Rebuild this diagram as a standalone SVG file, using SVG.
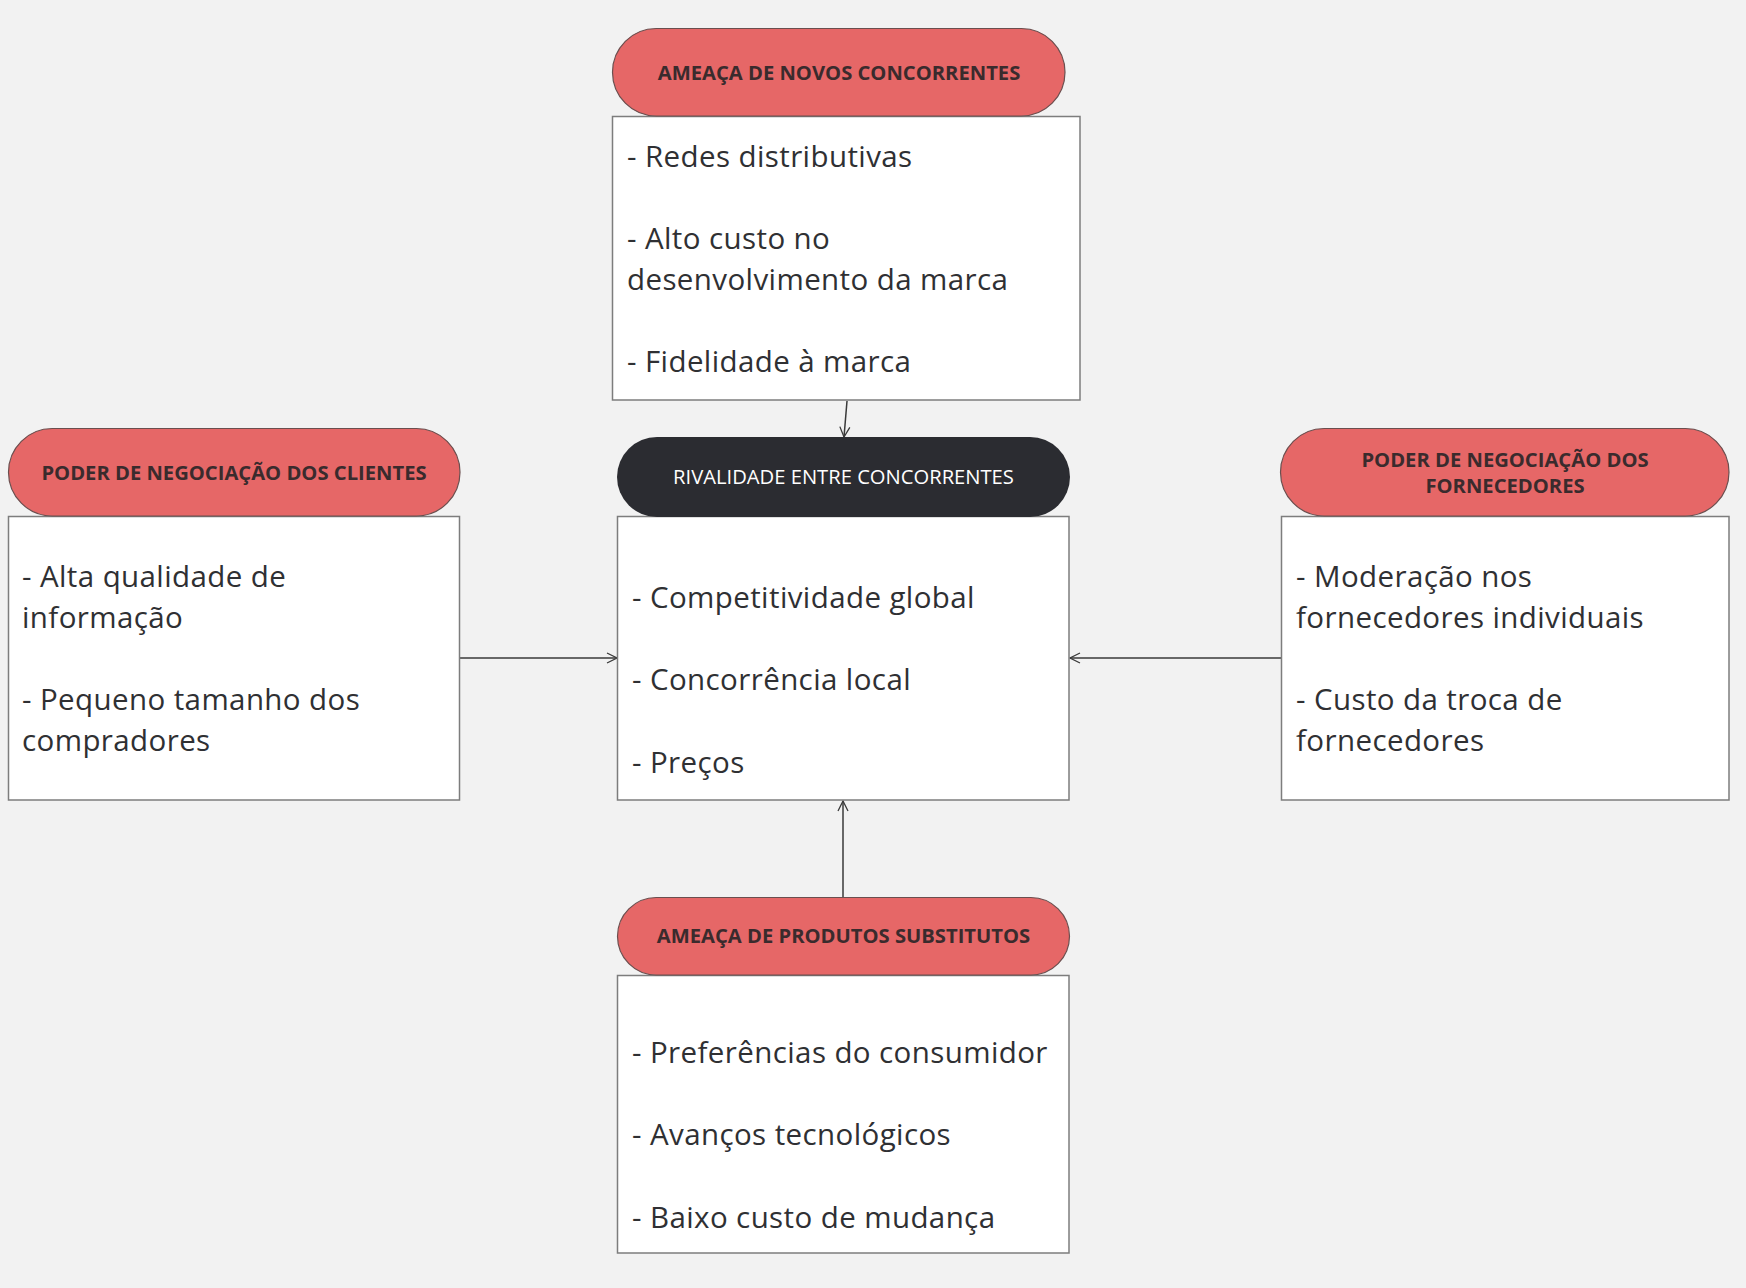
<svg xmlns="http://www.w3.org/2000/svg" width="1746" height="1288" viewBox="0 0 1746 1288">
<defs>
<style>
.bg{fill:#f2f2f2}
.pill{fill:#e66767;stroke:#6b4f4f;stroke-width:1.2}
.dark{fill:#2b2c31}
.box{fill:#ffffff;stroke:#7d7d7d;stroke-width:1.5}
.ht{font-family:"Open Sans","Noto Sans","Liberation Sans",sans-serif;font-weight:700;font-size:20.2px;fill:#3a2b2d;text-anchor:middle}
.dt{font-family:"Open Sans","Noto Sans","Liberation Sans",sans-serif;font-size:20.2px;fill:#ffffff;text-anchor:middle}
.bt{font-family:"Open Sans","Noto Sans","Liberation Sans",sans-serif;font-size:29.5px;letter-spacing:0.4px;fill:#2f3033}
.conn{stroke:#3a3a3a;stroke-width:1.5;fill:none}
</style>
<marker id="arr" viewBox="0 0 12 12" refX="11" refY="6" markerWidth="12" markerHeight="12" markerUnits="userSpaceOnUse" orient="auto">
<path d="M1,1 L11,6 L1,11" fill="none" stroke="#3a3a3a" stroke-width="1.3"/>
</marker>
</defs>
<rect class="bg" x="0" y="0" width="1746" height="1288"/>

<g id="connectors">
<line class="conn" x1="847" y1="401" x2="844" y2="437" marker-end="url(#arr)"/>
<line class="conn" x1="460" y1="658" x2="617" y2="658" marker-end="url(#arr)"/>
<line class="conn" x1="1281" y1="658" x2="1070" y2="658" marker-end="url(#arr)"/>
<line class="conn" x1="843" y1="897" x2="843" y2="801" marker-end="url(#arr)"/>
</g>

<g id="novos">
<rect class="box" x="612.5" y="116.5" width="467.5" height="283.5"/>
<rect class="pill" x="612.5" y="28.5" width="452.5" height="87.5" rx="43.75"/>
<text class="ht" x="839" y="80">AMEAÇA DE NOVOS CONCORRENTES</text>
<text class="bt" x="627" y="167">- Redes distributivas</text>
<text class="bt" x="627" y="249">- Alto custo no</text>
<text class="bt" x="627" y="290">desenvolvimento da marca</text>
<text class="bt" x="627" y="372">- Fidelidade à marca</text>
</g>

<g id="rivalidade">
<rect class="box" x="617.5" y="516.5" width="451.5" height="283.5"/>
<rect class="dark" x="617" y="437" width="453" height="80" rx="40"/>
<text class="dt" x="843.5" y="484">RIVALIDADE ENTRE CONCORRENTES</text>
<text class="bt" x="632" y="608">- Competitividade global</text>
<text class="bt" x="632" y="690">- Concorrência local</text>
<text class="bt" x="632" y="773">- Preços</text>
</g>

<g id="clientes">
<rect class="box" x="8.5" y="516.5" width="451" height="283.5"/>
<rect class="pill" x="8.5" y="428.5" width="451.5" height="87.5" rx="43.75"/>
<text class="ht" x="234" y="480">PODER DE NEGOCIAÇÃO DOS CLIENTES</text>
<text class="bt" x="22" y="587">- Alta qualidade de</text>
<text class="bt" x="22" y="628">informação</text>
<text class="bt" x="22" y="710">- Pequeno tamanho dos</text>
<text class="bt" x="22" y="751">compradores</text>
</g>

<g id="fornecedores">
<rect class="box" x="1281.5" y="516.5" width="447.5" height="283.5"/>
<rect class="pill" x="1280.5" y="428.5" width="448.5" height="87.5" rx="43.75"/>
<text class="ht" x="1505" y="467">PODER DE NEGOCIAÇÃO DOS</text>
<text class="ht" x="1505" y="493">FORNECEDORES</text>
<text class="bt" x="1296" y="587">- Moderação nos</text>
<text class="bt" x="1296" y="628">fornecedores individuais</text>
<text class="bt" x="1296" y="710">- Custo da troca de</text>
<text class="bt" x="1296" y="751">fornecedores</text>
</g>

<g id="substitutos">
<rect class="box" x="617.5" y="975.5" width="451.5" height="277.5"/>
<rect class="pill" x="617.5" y="897.5" width="452" height="77.5" rx="38.75"/>
<text class="ht" x="843.5" y="943">AMEAÇA DE PRODUTOS SUBSTITUTOS</text>
<text class="bt" x="632" y="1063">- Preferências do consumidor</text>
<text class="bt" x="632" y="1145">- Avanços tecnológicos</text>
<text class="bt" x="632" y="1228">- Baixo custo de mudança</text>
</g>
</svg>
